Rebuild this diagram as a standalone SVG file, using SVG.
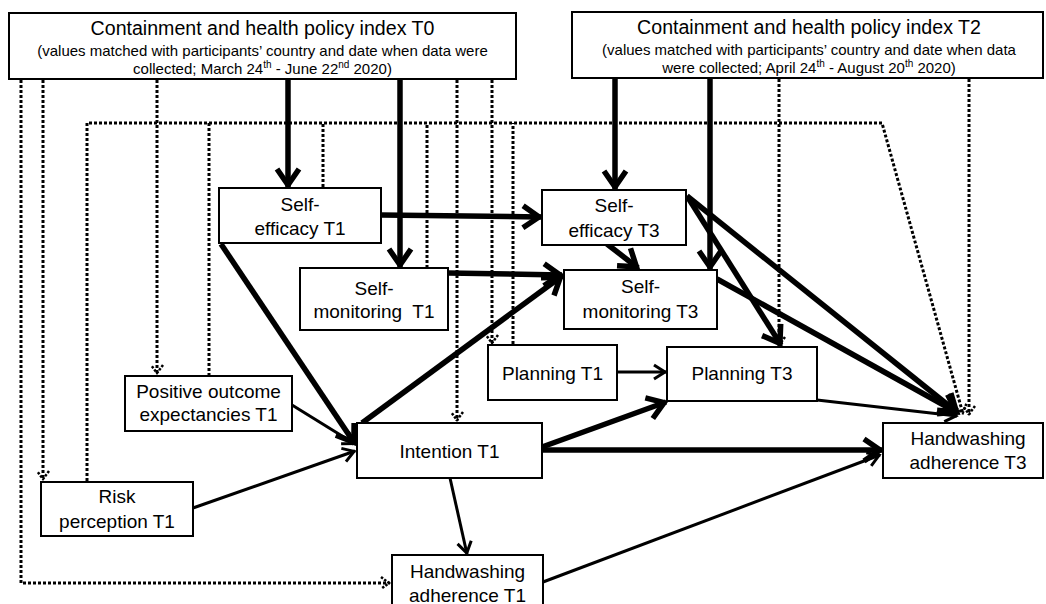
<svg xmlns="http://www.w3.org/2000/svg" width="1046" height="604" viewBox="0 0 1046 604">
<style>
.box{fill:#fff;stroke:#000;stroke-width:2}
text{font-family:"Liberation Sans",Arial,sans-serif;fill:#000}
.t{font-size:19px;text-anchor:middle}
.h{font-size:19.6px;text-anchor:middle}
.s{font-size:15px;text-anchor:middle}
.thick{fill:none;stroke:#000;stroke-width:5.5}
.thin{fill:none;stroke:#000;stroke-width:3}
.dot{fill:none;stroke:#000;stroke-width:3;stroke-dasharray:3 2}
</style>
<defs>
<marker id="aK" markerUnits="userSpaceOnUse" orient="auto" overflow="visible" refX="0" refY="0" markerWidth="1" markerHeight="1"><path d="M-18,-11 L-2,0 L-18,11" fill="none" stroke="#000" stroke-width="5.5"/></marker>
<marker id="aT" markerUnits="userSpaceOnUse" orient="auto" overflow="visible" refX="0" refY="0" markerWidth="1" markerHeight="1"><path d="M-12,-7 L-1,0 L-12,7" fill="none" stroke="#000" stroke-width="3"/></marker>
<marker id="aD" markerUnits="userSpaceOnUse" orient="auto" overflow="visible" refX="0" refY="0" markerWidth="1" markerHeight="1"><path d="M-9,-6 L-1,0 L-9,6" fill="none" stroke="#000" stroke-width="2.5" stroke-dasharray="2.5 1.5"/></marker>
</defs>

<g id="connectors">
<!-- dotted -->
<path class="dot" d="M21,80 V583 H390" marker-end="url(#aD)"/>
<path class="dot" d="M43,80 V480" marker-end="url(#aD)"/>
<path class="dot" d="M157,80 V374" marker-end="url(#aD)"/>
<path class="dot" d="M87,481 V123 H882 L963,414" marker-end="url(#aD)"/>
<path class="dot" d="M209,376 V123"/>
<path class="dot" d="M323,187 V123"/>
<path class="dot" d="M427,268 V123"/>
<path class="dot" d="M513,344 V123"/>
<path class="dot" d="M457,80 V421" marker-end="url(#aD)"/>
<path class="dot" d="M492,80 V344" marker-end="url(#aD)"/>
<path class="dot" d="M779,79 V346" marker-end="url(#aD)"/>
<path class="dot" d="M969,79 V415" marker-end="url(#aD)"/>
<!-- thin -->
<path class="thin" d="M292,405 L355,444" marker-end="url(#aT)"/>
<path class="thin" d="M193,508 L355,451" marker-end="url(#aT)"/>
<path class="thin" d="M617,372 L666,372" marker-end="url(#aT)"/>
<path class="thin" d="M450,478 L467,554" marker-end="url(#aT)"/>
<path class="thin" d="M543,582 L880,455" marker-end="url(#aT)"/>
<path class="thin" d="M817,400 L957,416" marker-end="url(#aT)"/>
<!-- thick -->
<path class="thick" d="M288,79 V187" marker-end="url(#aK)"/>
<path class="thick" d="M400,79 V267" marker-end="url(#aK)"/>
<path class="thick" d="M615,78 V189" marker-end="url(#aK)"/>
<path class="thick" d="M710,78 V269" marker-end="url(#aK)"/>
<path class="thick" d="M381,215 L541,217" marker-end="url(#aK)"/>
<path class="thick" d="M448,273 L562,275" marker-end="url(#aK)"/>
<path class="thick" d="M221,244 L355,444" marker-end="url(#aK)"/>
<path class="thick" d="M362,423 L562,276" marker-end="url(#aK)"/>
<path class="thick" d="M607,244 L638,268" marker-end="url(#aK)"/>
<path class="thick" d="M687,196 L781,345" marker-end="url(#aK)"/>
<path class="thick" d="M687,196 L958,413" marker-end="url(#aK)"/>
<path class="thick" d="M717,279 L958,413" marker-end="url(#aK)"/>
<path class="thick" d="M542,447 L666,402" marker-end="url(#aK)"/>
<path class="thick" d="M542,450 L882,450" marker-end="url(#aK)"/>
</g>

<g id="policy-t0">
<rect class="box" x="9" y="13" width="507" height="66"/>
<text class="h" x="262.5" y="35">Containment and health policy index T0</text>
<text class="s" x="262.5" y="56">(values matched with participants’ country and date when data were</text>
<text class="s" x="262.5" y="74">collected; March 24<tspan dy="-6" font-size="10">th</tspan><tspan dy="6"> - June 22</tspan><tspan dy="-6" font-size="10">nd</tspan><tspan dy="6"> 2020)</tspan></text>
</g>
<g id="policy-t2">
<rect class="box" x="572" y="12" width="471" height="66"/>
<text class="h" x="809" y="34">Containment and health policy index T2</text>
<text class="s" x="809" y="55">(values matched with participants’ country and date when data</text>
<text class="s" x="809" y="73">were collected; April 24<tspan dy="-6" font-size="10">th</tspan><tspan dy="6"> - August 20</tspan><tspan dy="-6" font-size="10">th</tspan><tspan dy="6"> 2020)</tspan></text>
</g>
<g id="self-efficacy-t1">
<rect class="box" x="219" y="188" width="162" height="55"/>
<text class="t" x="300" y="211">Self-</text>
<text class="t" x="300" y="235">efficacy T1</text>
</g>
<g id="self-monitoring-t1">
<rect class="box" x="300" y="268" width="148" height="62"/>
<text class="t" x="374" y="295">Self-</text>
<text class="t" x="374" y="318" xml:space="preserve">monitoring  T1</text>
</g>
<g id="self-efficacy-t3">
<rect class="box" x="542" y="190" width="144" height="55"/>
<text class="t" x="614" y="212">Self-</text>
<text class="t" x="614" y="237">efficacy T3</text>
</g>
<g id="self-monitoring-t3">
<rect class="box" x="564" y="270" width="153" height="59"/>
<text class="t" x="640.5" y="293">Self-</text>
<text class="t" x="640.5" y="318">monitoring T3</text>
</g>
<g id="planning-t1">
<rect class="box" x="488" y="345" width="129" height="55"/>
<text class="t" x="552.5" y="380">Planning T1</text>
</g>
<g id="planning-t3">
<rect class="box" x="667" y="347" width="150" height="54"/>
<text class="t" x="742" y="380">Planning T3</text>
</g>
<g id="positive-outcome-t1">
<rect class="box" x="125" y="376" width="167" height="55"/>
<text class="t" x="208.5" y="398">Positive outcome</text>
<text class="t" x="208.5" y="421">expectancies T1</text>
</g>
<g id="risk-perception-t1">
<rect class="box" x="41" y="482" width="152" height="54"/>
<text class="t" x="117" y="503">Risk</text>
<text class="t" x="117" y="528">perception T1</text>
</g>
<g id="intention-t1">
<rect class="box" x="357" y="423" width="185" height="55"/>
<text class="t" x="449.5" y="458">Intention T1</text>
</g>
<g id="handwashing-t1">
<rect class="box" x="392" y="555" width="151" height="62"/>
<text class="t" x="467.5" y="578">Handwashing</text>
<text class="t" x="467.5" y="602">adherence T1</text>
</g>
<g id="handwashing-t3">
<rect class="box" x="883" y="423" width="160" height="55"/>
<text class="t" x="968" y="445">Handwashing</text>
<text class="t" x="968" y="469">adherence T3</text>
</g>
</svg>
